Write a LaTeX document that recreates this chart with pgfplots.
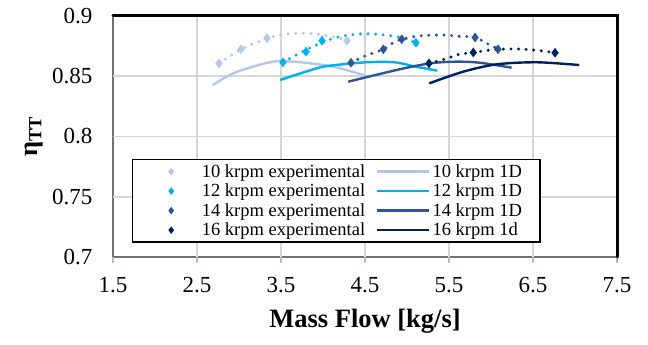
\documentclass[border=0pt]{standalone}
\usepackage{pgfplots}
\pgfplotsset{compat=1.18}
\usepackage{fontspec}
\setmainfont{Liberation Serif}
\definecolor{c10}{RGB}{180,199,231}
\definecolor{c12}{RGB}{0,176,240}
\definecolor{c14}{RGB}{47,85,151}
\definecolor{c16}{RGB}{0,32,96}
\definecolor{gridc}{RGB}{212,214,218}
\definecolor{axc}{RGB}{110,113,120}
\definecolor{stubc}{RGB}{185,188,194}
\pgfplotsset{
  expst/.style={only marks, mark=diamond*, mark size=4.5pt, color=#1,
    legend image code/.code={\path (0pt,0pt) (63pt,0pt);\draw[##1, mark size=2.8pt] plot[only marks] coordinates {(35pt,0pt)};}},
  trendst/.style={no marks, smooth, draw=#1, line width=3.3pt, line cap=round, dash pattern=on 0pt off 7.6pt, forget plot},
  onedst/.style={no marks, smooth, draw=#1, line width=2.4pt,
    legend image code/.code={\draw[##1] (0pt,0pt) -- (52pt,0pt);}},
  gridst/.style={no marks, draw=gridc, line width=1.8pt, forget plot},
}
\begin{document}
\begin{tikzpicture}
\begin{axis}[
  name=ax,
  scale only axis, width=504pt, height=241pt,
  xmin=1.5, xmax=7.5, ymin=0.7, ymax=0.9,
  xtick={1.5,2.5,3.5,4.5,5.5,6.5,7.5},
  ytick={0.7,0.75,0.8,0.85,0.9},
  axis line style={draw=axc, line width=1.6pt},
  major tick length=0pt,
  /pgf/number format/assume math mode=true,
  /pgf/number format/fixed,
  tick label style={font=\fontsize{23}{23}\selectfont},
  yticklabel style={xshift=-17pt},
  xticklabel style={yshift=-17pt},
  xlabel={\textbf{Mass Flow [kg/s]}},
  ylabel={\textbf{η\textsubscript{TT}}},
  label style={font=\fontsize{26.5}{26.5}\selectfont},
  xlabel style={yshift=-9pt},
  ylabel style={yshift=2pt},
  legend columns=2,
  legend cell align=left,
  legend style={at={(0.0377,0.06)}, anchor=south west, draw=black, line width=1.2pt, fill=white,
    font=\fontsize{18.5}{18.5}\selectfont, row sep=0pt,
    nodes={inner ysep=2.6pt},
    /tikz/every even column/.append style={column sep=9pt}},
]
% grid lines drawn as plain plots
\addplot[gridst] coordinates {(2.5,0.7) (2.5,0.9)};
\addplot[gridst] coordinates {(3.5,0.7) (3.5,0.9)};
\addplot[gridst] coordinates {(4.5,0.7) (4.5,0.9)};
\addplot[gridst] coordinates {(5.5,0.7) (5.5,0.9)};
\addplot[gridst] coordinates {(6.5,0.7) (6.5,0.9)};
\addplot[gridst] coordinates {(1.5,0.75) (7.5,0.75)};
\addplot[gridst] coordinates {(1.5,0.8) (7.5,0.8)};
\addplot[gridst] coordinates {(1.5,0.85) (7.5,0.85)};
% 10 krpm
\addplot[expst=c10] coordinates {(2.762,0.8607) (3.024,0.8724) (3.333,0.8815) (4.286,0.8795)};
\addlegendentry{10 krpm experimental}
\addplot[onedst=c10] coordinates {(2.687,0.8427) (2.853,0.8496) (3.012,0.8546) (3.405,0.8621) (3.726,0.8616) (4.123,0.8579) (4.551,0.8496)};
\addlegendentry{10 krpm 1D\rule{13pt}{0pt}}
\addplot[trendst=c10] coordinates {(2.762,0.8607) (2.932,0.8685) (3.104,0.8751) (3.270,0.8795) (3.449,0.8837) (3.646,0.8856) (3.837,0.8856) (4.024,0.8842) (4.202,0.8815) (4.282,0.8795)};
% 12 krpm
\addplot[expst=c12] coordinates {(3.524,0.8616) (3.798,0.8704) (3.988,0.8795) (5.107,0.8778)};
\addlegendentry{12 krpm experimental}
\addplot[onedst=c12] coordinates {(3.491,0.8469) (3.925,0.8566) (4.123,0.8591) (4.52,0.8616) (4.85,0.8616) (5.1,0.858) (5.361,0.8546)};
\addlegendentry{12 krpm 1D\rule{13pt}{0pt}}
\addplot[trendst=c12] coordinates {(3.520,0.8616) (3.706,0.8685) (3.877,0.8745) (4.123,0.8815) (4.313,0.8842) (4.508,0.8853) (4.699,0.8845) (4.885,0.8828) (4.996,0.8807) (5.104,0.8778)};
% 14 krpm
\addplot[expst=c14] coordinates {(4.333,0.8612) (4.718,0.8724) (4.937,0.8807) (5.81,0.8822) (6.083,0.8724)};
\addlegendentry{14 krpm experimental}
\addplot[onedst=c14] coordinates {(4.301,0.8455) (4.877,0.8552) (5.274,0.8607) (5.59,0.8621) (5.869,0.8612) (6.245,0.8571)};
\addlegendentry{14 krpm 1D\rule{13pt}{0pt}}
\addplot[trendst=c14] coordinates {(4.333,0.8612) (4.508,0.8671) (4.718,0.8724) (4.857,0.8787) (5.036,0.8823) (5.235,0.8840) (5.432,0.8842) (5.619,0.8832) (5.810,0.8823) (5.988,0.8759) (6.087,0.8726)};
% 16 krpm
\addplot[expst=c16] coordinates {(5.262,0.8607) (5.789,0.8697) (6.762,0.8695)};
\addlegendentry{16 krpm experimental}
\addplot[onedst=c16] coordinates {(5.265,0.8441) (5.67,0.8538) (6.067,0.8599) (6.544,0.8616) (7.051,0.8593)};
\addlegendentry{16 krpm 1d\rule{13pt}{0pt}}
\addplot[trendst=c16] coordinates {(5.262,0.8607) (5.444,0.8641) (5.623,0.8682) (5.789,0.8697) (6.0,0.8718) (6.187,0.8726) (6.385,0.8724) (6.583,0.8712) (6.762,0.8695)};
\end{axis}
\foreach \i in {0,...,6} {\draw[stubc, line width=1.5pt] ([xshift=\i*84pt]ax.south west) -- ++(0,-6pt);}
\draw[black, line width=3pt, line cap=round] (ax.north west) -- (ax.north east) -- (ax.south east);
\path (ax.south west) ++(-113pt,-88pt) rectangle ++(648pt,345pt);
\end{tikzpicture}
\end{document}
